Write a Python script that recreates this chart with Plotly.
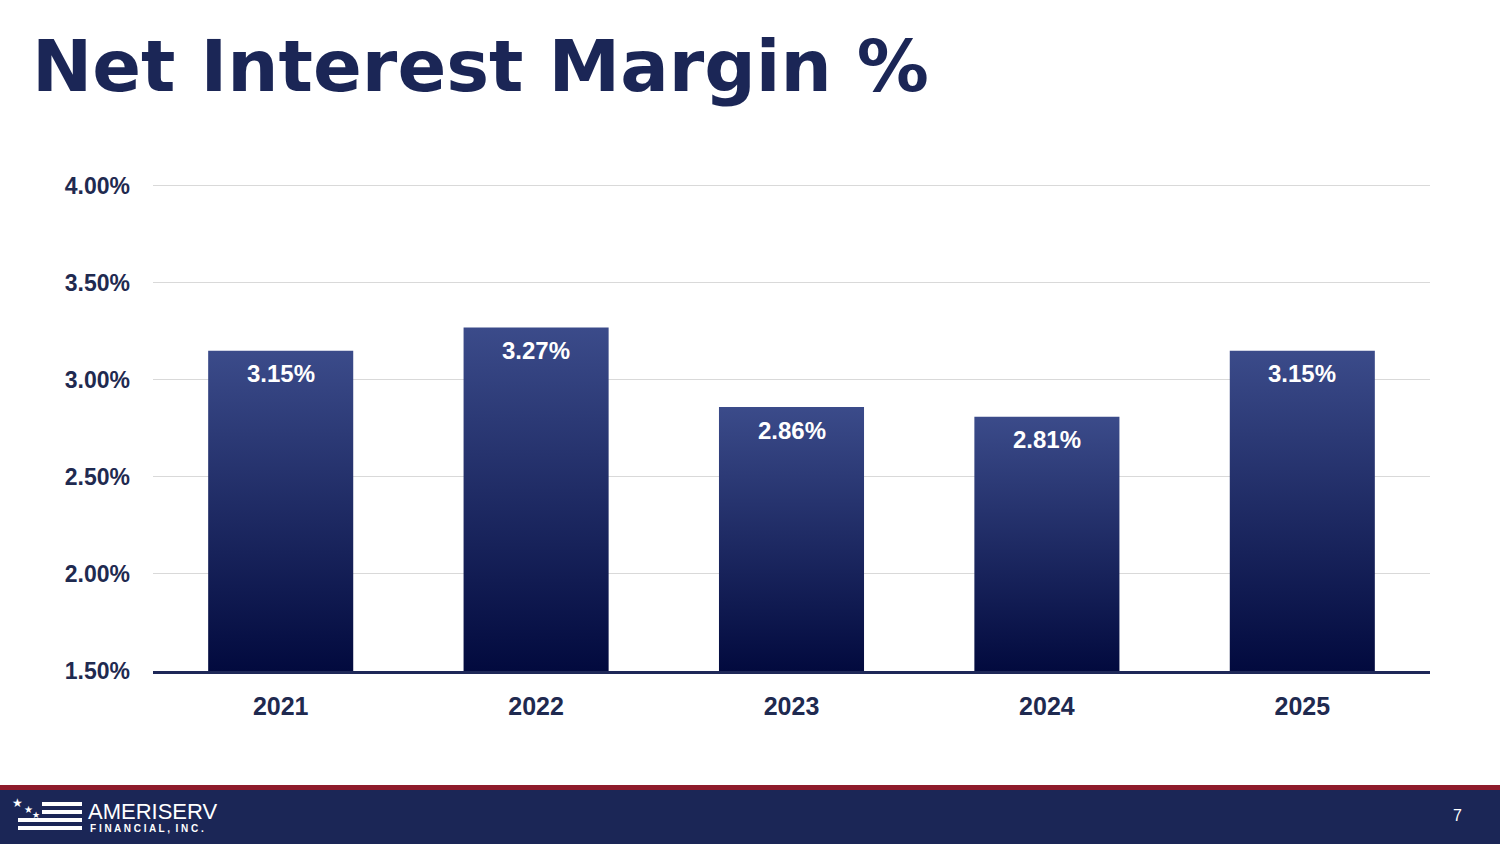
import plotly.graph_objects as go

# --- data ---
years = ["2021", "2022", "2023", "2024", "2025"]
nim_pct = [3.15, 3.27, 2.86, 2.81, 3.15]
y_ticks = [1.5, 2.0, 2.5, 3.0, 3.5, 4.0]
y_labels = [f"{t:.2f}%" for t in y_ticks]

W, H = 1500, 844
PX_PER_UNIT = (671 - 186) / 2.5   # 0.5% steps are 97 px apart
Y_TOP = 4.05                        # a little headroom so the 4.00% grid shows
PLOT_BOT = 671
PLOT_TOP = PLOT_BOT - (Y_TOP - y_ticks[0]) * PX_PER_UNIT
NAVY = "#1B2656"
BAR_TOP = "#3B4B8A"
BAR_BOT = "#020A3E"
HALF = 0.284  # half bar width, in category units


def py(y_px):
    """pixel row -> paper y"""
    return (PLOT_BOT - y_px) / (PLOT_BOT - PLOT_TOP)


def px(x_px, left=153, right=1430):
    return (x_px - left) / (right - left)


fig = go.Figure()

# bars as filled polygons so each one can carry a vertical gradient
base = y_ticks[0]
for i, v in enumerate(nim_pct):
    fig.add_trace(go.Scatter(
        x=[i - HALF, i + HALF, i + HALF, i - HALF, i - HALF],
        y=[base, base, v, v, base],
        mode="lines", fill="toself", line=dict(width=0),
        fillgradient=dict(type="vertical",
                          colorscale=[[0, BAR_BOT], [1, BAR_TOP]]),
        hoverinfo="skip", showlegend=False,
    ))

# value labels inside the bar tops
for i, v in enumerate(nim_pct):
    fig.add_annotation(x=i, y=v, xref="x", yref="y", text=f"{v:.2f}%",
                       showarrow=False, yanchor="middle", yshift=-23,
                       font=dict(family="Liberation Sans", size=24,
                                 color="white", weight="bold"))

# title
fig.add_annotation(x=px(30), y=py(66), xref="paper", yref="paper",
                   text="Net Interest Margin %", showarrow=False,
                   xanchor="left", yanchor="middle",
                   font=dict(family="DejaVu Sans", size=72, color=NAVY,
                             weight="bold"))

# footer band + red rule
fig.add_shape(type="rect", xref="paper", yref="paper", x0=px(0), x1=px(W),
              y0=py(790), y1=py(H + 5), fillcolor=NAVY, line_width=0,
              layer="above")
fig.add_shape(type="rect", xref="paper", yref="paper", x0=px(0), x1=px(W),
              y0=py(785), y1=py(790), fillcolor="#8E1B2B", line_width=0,
              layer="above")

# logo: flag stripes, stars, wordmark
for x0, y0, y1 in [(42, 802, 806), (42, 810, 814), (18, 818, 822), (18, 826, 830)]:
    fig.add_shape(type="rect", xref="paper", yref="paper", x0=px(x0), x1=px(82),
                  y0=py(y0), y1=py(y1), fillcolor="white", line_width=0,
                  layer="above")
for sx, sy, ss in [(17, 802, 12), (28, 809, 10), (36, 814, 9)]:
    fig.add_annotation(x=px(sx), y=py(sy), xref="paper", yref="paper",
                       text="★", showarrow=False, xanchor="center",
                       yanchor="middle", font=dict(size=ss, color="white"))
fig.add_annotation(x=px(86), y=py(811), xref="paper", yref="paper",
                   text="AMERISERV", showarrow=False, xanchor="left",
                   yanchor="middle",
                   font=dict(family="Liberation Sans", size=22,
                             color="white"))
fig.add_annotation(x=px(88), y=py(828), xref="paper", yref="paper",
                   text="F I N A N C I A L ,  I N C .", showarrow=False,
                   xanchor="left", yanchor="middle",
                   font=dict(family="Liberation Sans", size=10, color="white",
                             weight="bold"))

# page number
fig.add_annotation(x=px(1457), y=py(815), xref="paper", yref="paper",
                   text="7", showarrow=False, xanchor="center",
                   yanchor="middle",
                   font=dict(family="Liberation Sans", size=16, color="white"))

fig.update_layout(
    width=W, height=H,
    margin=dict(l=153, r=W - 1430, t=PLOT_TOP, b=H - PLOT_BOT, pad=0),
    paper_bgcolor="white", plot_bgcolor="white",
    showlegend=False,
    xaxis=dict(
        range=[-0.5, len(years) - 0.5],
        tickvals=list(range(len(years))), ticktext=years,
        showgrid=False, zeroline=False,
        showline=True, linecolor="#1E2858", linewidth=3,
        ticks="", ticklabelstandoff=11,
        tickfont=dict(family="Liberation Sans", size=25, color="#1F2A50",
                      weight="bold"),
        fixedrange=True,
    ),
    yaxis=dict(
        range=[y_ticks[0], Y_TOP],
        tickvals=y_ticks, ticktext=y_labels,
        showgrid=True, gridcolor="#D9D9D9", gridwidth=1,
        zeroline=False, showline=False, ticks="",
        ticklabelstandoff=22,
        tickfont=dict(family="Liberation Sans", size=23, color="#1F2A50",
                      weight="bold"),
        fixedrange=True,
    ),
)

fig.write_html("out.html", config={"displayModeBar": False},
               post_script="document.body.style.margin='0';")
